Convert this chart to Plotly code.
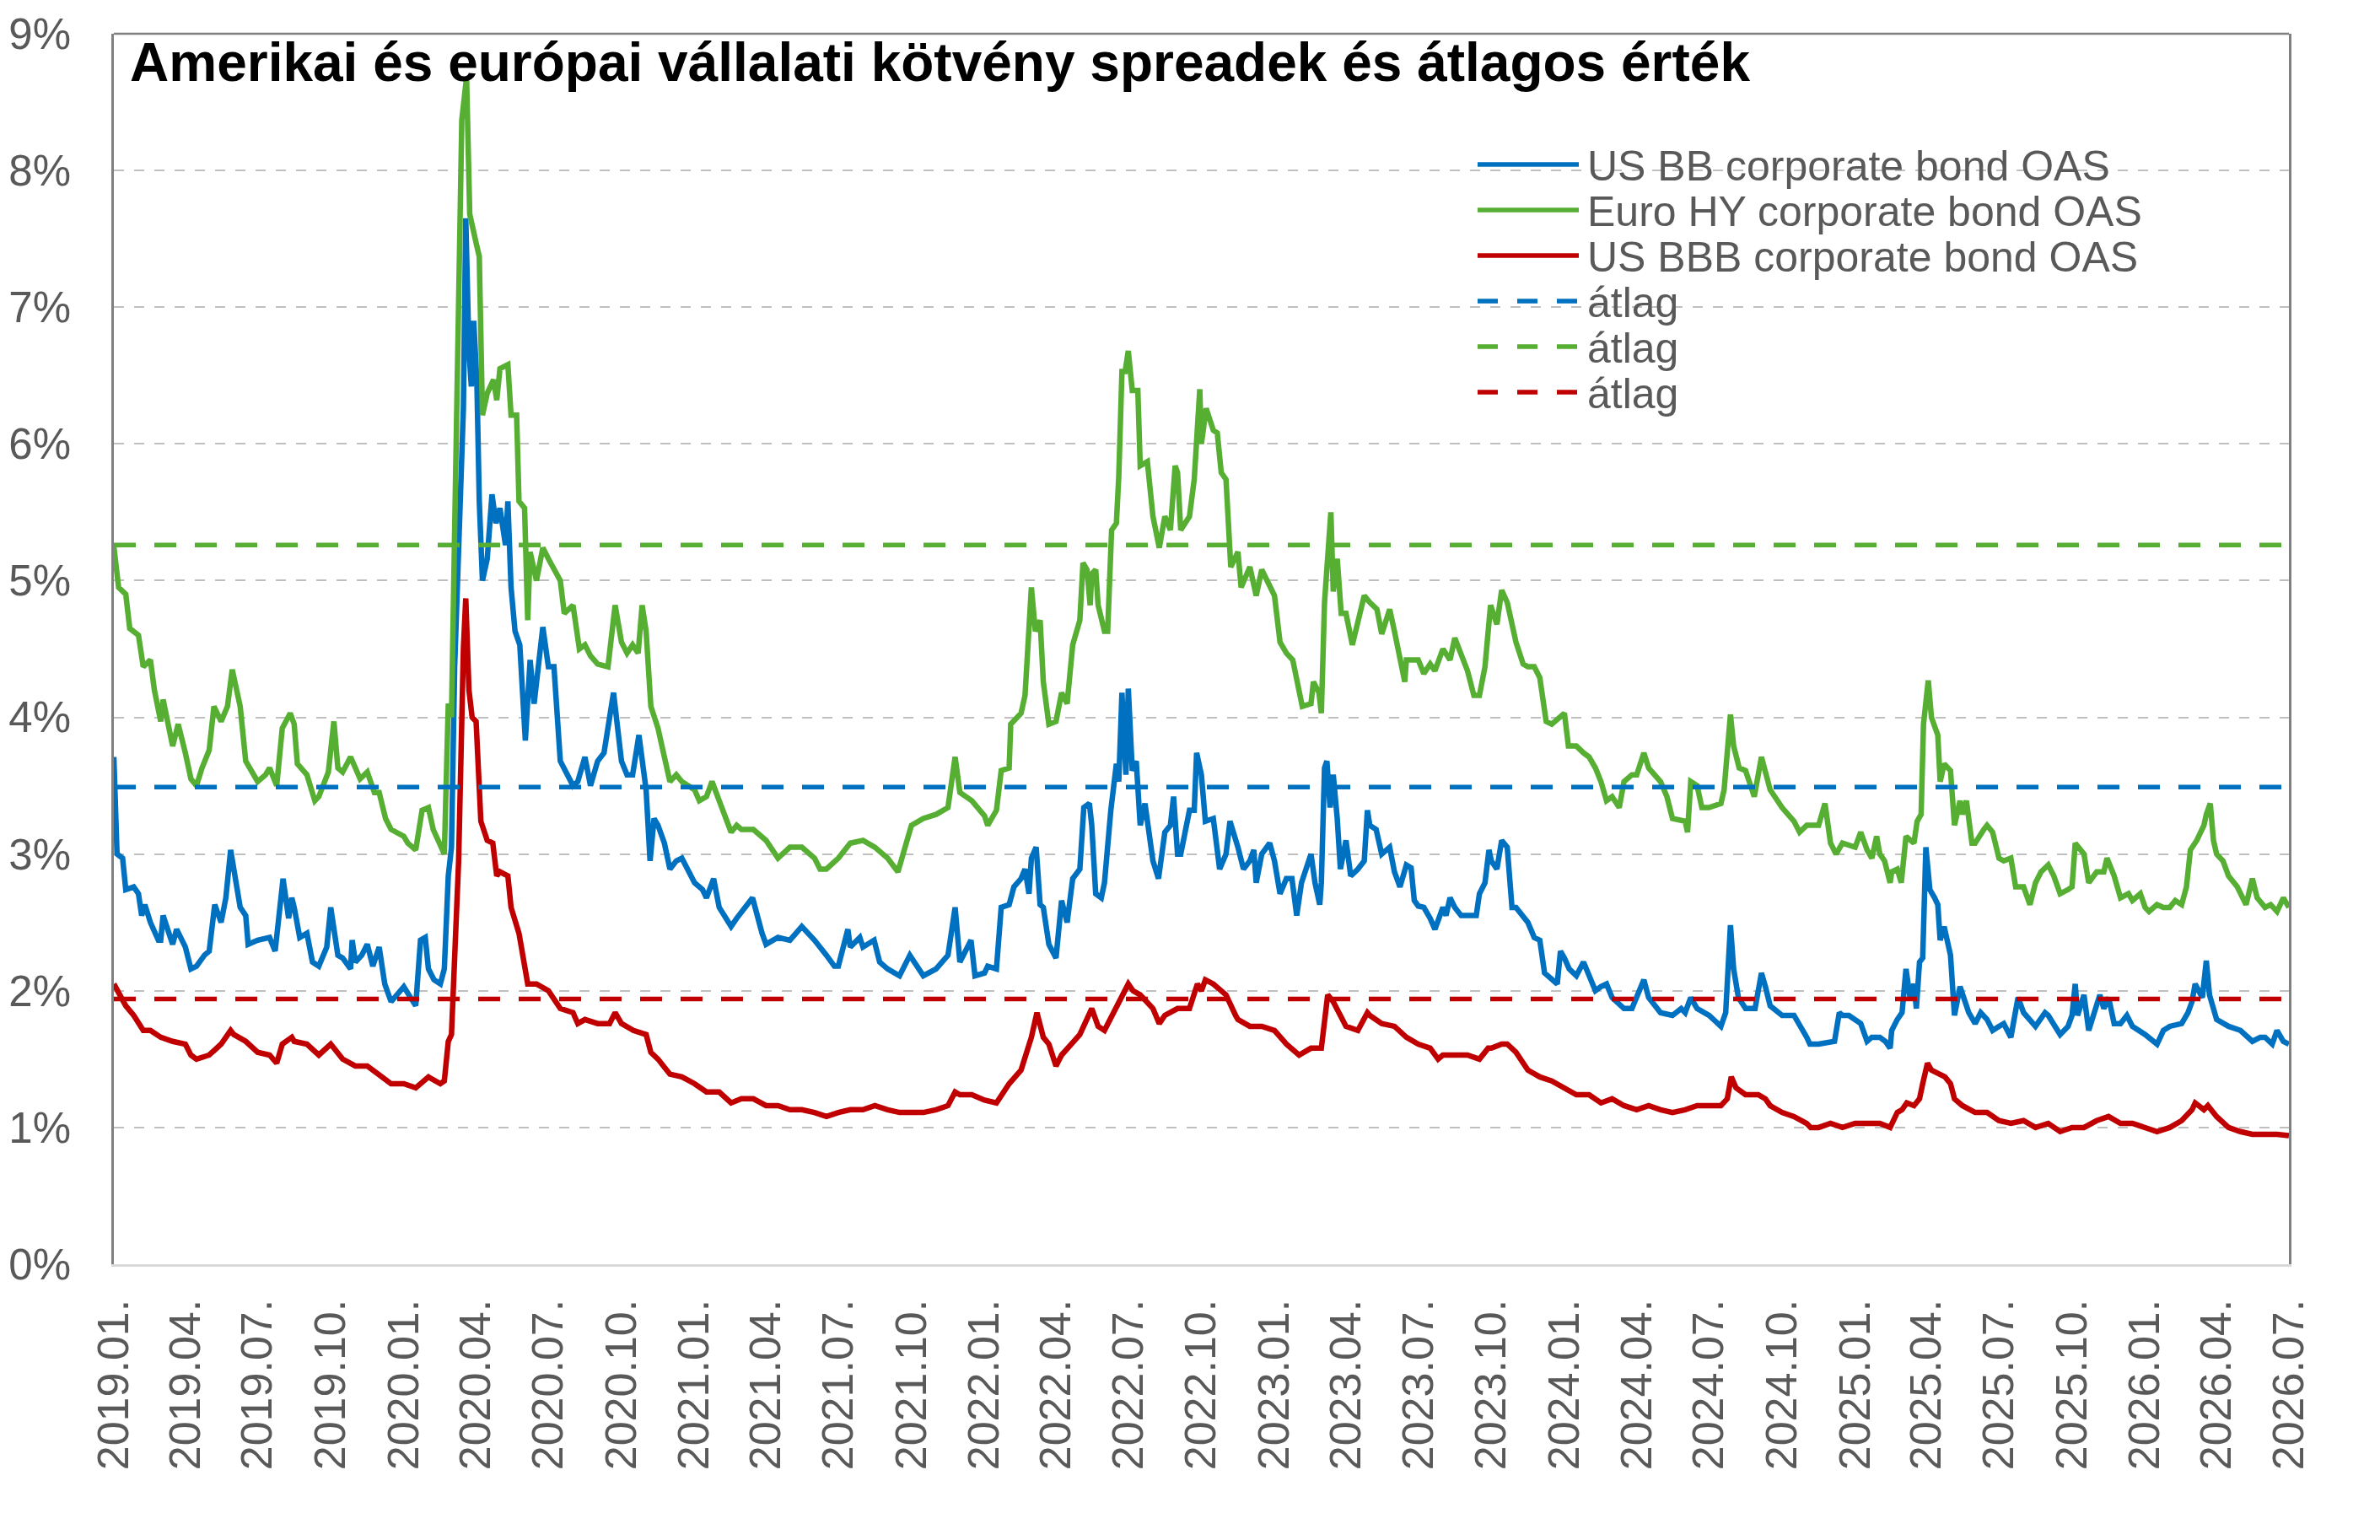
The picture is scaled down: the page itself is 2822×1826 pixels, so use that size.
import plotly.graph_objects as go

# ---------------- data (values in %) ----------------
us_bb = [
    ("2019-01-01", 3.71), ("2019-01-05", 3.00), ("2019-01-12", 2.97), ("2019-01-16", 2.74), ("2019-01-26", 2.76),
    ("2019-02-01", 2.71), ("2019-02-05", 2.55), ("2019-02-09", 2.63), ("2019-02-16", 2.50), ("2019-02-26", 2.37),
    ("2019-03-01", 2.37), ("2019-03-04", 2.55), ("2019-03-16", 2.34), ("2019-03-21", 2.45), ("2019-04-01", 2.32),
    ("2019-04-08", 2.16), ("2019-04-15", 2.18), ("2019-04-25", 2.26), ("2019-05-01", 2.29), ("2019-05-08", 2.63),
    ("2019-05-16", 2.50), ("2019-05-22", 2.68), ("2019-05-28", 3.03), ("2019-06-01", 2.89), ("2019-06-09", 2.61),
    ("2019-06-16", 2.55), ("2019-06-19", 2.34), ("2019-07-01", 2.37), ("2019-07-16", 2.39), ("2019-07-23", 2.29),
    ("2019-08-02", 2.82), ("2019-08-09", 2.53), ("2019-08-13", 2.68), ("2019-08-16", 2.61), ("2019-08-23", 2.39),
    ("2019-09-01", 2.42), ("2019-09-08", 2.21), ("2019-09-16", 2.18), ("2019-09-26", 2.32), ("2019-10-01", 2.61),
    ("2019-10-10", 2.26), ("2019-10-16", 2.24), ("2019-10-26", 2.16), ("2019-10-28", 2.37), ("2019-11-01", 2.21),
    ("2019-11-09", 2.26), ("2019-11-16", 2.34), ("2019-11-23", 2.18), ("2019-12-01", 2.32), ("2019-12-08", 2.05),
    ("2019-12-16", 1.92), ("2020-01-01", 2.03), ("2020-01-10", 1.95), ("2020-01-16", 1.89), ("2020-01-22", 2.37),
    ("2020-01-28", 2.39), ("2020-02-01", 2.16), ("2020-02-08", 2.08), ("2020-02-16", 2.05), ("2020-02-21", 2.16),
    ("2020-02-26", 2.84), ("2020-03-01", 3.05), ("2020-03-05", 4.37), ("2020-03-10", 5.32), ("2020-03-16", 6.26),
    ("2020-03-19", 7.65), ("2020-03-23", 6.68), ("2020-03-26", 6.42), ("2020-03-29", 6.90), ("2020-04-02", 6.45),
    ("2020-04-05", 5.58), ("2020-04-09", 5.00), ("2020-04-15", 5.16), ("2020-04-21", 5.63), ("2020-04-26", 5.42),
    ("2020-05-01", 5.53), ("2020-05-08", 5.26), ("2020-05-11", 5.58), ("2020-05-15", 4.95), ("2020-05-20", 4.63),
    ("2020-05-26", 4.53), ("2020-06-02", 3.83), ("2020-06-08", 4.42), ("2020-06-13", 4.10), ("2020-06-18", 4.37),
    ("2020-06-24", 4.66), ("2020-07-01", 4.37), ("2020-07-08", 4.37), ("2020-07-16", 3.68), ("2020-07-21", 3.63),
    ("2020-08-01", 3.50), ("2020-08-07", 3.53), ("2020-08-16", 3.71), ("2020-08-23", 3.50), ("2020-09-01", 3.68),
    ("2020-09-09", 3.74), ("2020-09-21", 4.18), ("2020-10-01", 3.68), ("2020-10-08", 3.58), ("2020-10-15", 3.58),
    ("2020-10-23", 3.87), ("2020-11-01", 3.47), ("2020-11-06", 2.95), ("2020-11-11", 3.26), ("2020-11-16", 3.21),
    ("2020-11-24", 3.08), ("2020-12-01", 2.89), ("2020-12-09", 2.95), ("2020-12-16", 2.97), ("2021-01-01", 2.79),
    ("2021-01-11", 2.74), ("2021-01-16", 2.68), ("2021-01-25", 2.82), ("2021-02-01", 2.61), ("2021-02-16", 2.47),
    ("2021-02-23", 2.53), ("2021-03-01", 2.58), ("2021-03-15", 2.68), ("2021-03-27", 2.42), ("2021-04-01", 2.34),
    ("2021-04-16", 2.39), ("2021-05-01", 2.37), ("2021-05-16", 2.47), ("2021-06-01", 2.37), ("2021-06-16", 2.26),
    ("2021-06-26", 2.18), ("2021-07-01", 2.18), ("2021-07-13", 2.45), ("2021-07-16", 2.32), ("2021-07-28", 2.39),
    ("2021-08-01", 2.32), ("2021-08-15", 2.37), ("2021-08-22", 2.21), ("2021-09-01", 2.16), ("2021-09-16", 2.11),
    ("2021-09-29", 2.26), ("2021-10-16", 2.11), ("2021-11-01", 2.16), ("2021-11-16", 2.26), ("2021-11-25", 2.61),
    ("2021-12-01", 2.21), ("2021-12-15", 2.37), ("2021-12-20", 2.11), ("2022-01-01", 2.13), ("2022-01-05", 2.18),
    ("2022-01-16", 2.16), ("2022-01-22", 2.61), ("2022-02-01", 2.63), ("2022-02-07", 2.76), ("2022-02-16", 2.82),
    ("2022-02-21", 2.89), ("2022-02-26", 2.71), ("2022-03-01", 2.97), ("2022-03-07", 3.05), ("2022-03-12", 2.63),
    ("2022-03-16", 2.61), ("2022-03-23", 2.34), ("2022-04-01", 2.24), ("2022-04-08", 2.66), ("2022-04-15", 2.50),
    ("2022-04-22", 2.82), ("2022-05-01", 2.89), ("2022-05-06", 3.34), ("2022-05-13", 3.37), ("2022-05-16", 3.21),
    ("2022-05-21", 2.71), ("2022-05-28", 2.68), ("2022-06-01", 2.79), ("2022-06-09", 3.32), ("2022-06-16", 3.66),
    ("2022-06-19", 3.53), ("2022-06-23", 4.18), ("2022-06-28", 3.58), ("2022-07-01", 4.21), ("2022-07-06", 3.61),
    ("2022-07-11", 3.68), ("2022-07-16", 3.21), ("2022-07-22", 3.37), ("2022-08-01", 2.95), ("2022-08-08", 2.82),
    ("2022-08-16", 3.16), ("2022-08-23", 3.21), ("2022-08-27", 3.42), ("2022-09-01", 3.00), ("2022-09-05", 3.00),
    ("2022-09-16", 3.32), ("2022-09-22", 3.32), ("2022-09-25", 3.74), ("2022-10-01", 3.58), ("2022-10-06", 3.24),
    ("2022-10-16", 3.26), ("2022-10-24", 2.89), ("2022-11-01", 3.00), ("2022-11-06", 3.24), ("2022-11-16", 3.05),
    ("2022-11-23", 2.89), ("2022-12-01", 2.95), ("2022-12-06", 3.03), ("2022-12-09", 2.79), ("2022-12-16", 3.00),
    ("2022-12-26", 3.08), ("2023-01-01", 2.95), ("2023-01-08", 2.71), ("2023-01-16", 2.82), ("2023-01-23", 2.82),
    ("2023-01-29", 2.55), ("2023-02-04", 2.79), ("2023-02-16", 3.00), ("2023-02-21", 2.79), ("2023-02-27", 2.63),
    ("2023-03-01", 2.79), ("2023-03-05", 3.63), ("2023-03-08", 3.68), ("2023-03-12", 3.34), ("2023-03-16", 3.58),
    ("2023-03-21", 3.26), ("2023-03-25", 2.89), ("2023-04-01", 3.10), ("2023-04-07", 2.84), ("2023-04-16", 2.89),
    ("2023-04-24", 2.95), ("2023-04-28", 3.32), ("2023-05-01", 3.21), ("2023-05-09", 3.18), ("2023-05-16", 3.00),
    ("2023-05-26", 3.05), ("2023-06-01", 2.87), ("2023-06-08", 2.76), ("2023-06-16", 2.92), ("2023-06-22", 2.90),
    ("2023-06-26", 2.66), ("2023-07-01", 2.62), ("2023-07-08", 2.61), ("2023-07-16", 2.53), ("2023-07-22", 2.45),
    ("2023-08-01", 2.61), ("2023-08-05", 2.55), ("2023-08-10", 2.68), ("2023-08-16", 2.61), ("2023-08-24", 2.55),
    ("2023-09-01", 2.55), ("2023-09-12", 2.55), ("2023-09-16", 2.71), ("2023-09-23", 2.79), ("2023-09-28", 3.03),
    ("2023-10-01", 2.95), ("2023-10-08", 2.89), ("2023-10-14", 3.10), ("2023-10-21", 3.05), ("2023-10-27", 2.61),
    ("2023-11-01", 2.61), ("2023-11-10", 2.55), ("2023-11-16", 2.50), ("2023-11-24", 2.39), ("2023-12-01", 2.37),
    ("2023-12-07", 2.13), ("2023-12-16", 2.08), ("2023-12-23", 2.05), ("2023-12-27", 2.29), ("2024-01-01", 2.24),
    ("2024-01-07", 2.16), ("2024-01-16", 2.11), ("2024-01-25", 2.21), ("2024-02-01", 2.11), ("2024-02-09", 2.00),
    ("2024-02-16", 2.03), ("2024-02-23", 2.05), ("2024-03-01", 1.95), ("2024-03-16", 1.87), ("2024-03-26", 1.87),
    ("2024-04-01", 1.95), ("2024-04-10", 2.08), ("2024-04-16", 1.95), ("2024-05-01", 1.84), ("2024-05-16", 1.82),
    ("2024-05-27", 1.87), ("2024-06-01", 1.84), ("2024-06-08", 1.95), ("2024-06-16", 1.87), ("2024-07-01", 1.82),
    ("2024-07-16", 1.74), ("2024-07-22", 1.84), ("2024-07-28", 2.48), ("2024-08-01", 2.16), ("2024-08-07", 1.95),
    ("2024-08-16", 1.87), ("2024-08-28", 1.87), ("2024-09-05", 2.13), ("2024-09-10", 2.03), ("2024-09-16", 1.89),
    ("2024-10-01", 1.82), ("2024-10-16", 1.82), ("2024-11-01", 1.66), ("2024-11-05", 1.61), ("2024-11-16", 1.61),
    ("2024-12-01", 1.63), ("2024-12-06", 1.63), ("2024-12-12", 1.84), ("2024-12-16", 1.82), ("2024-12-24", 1.82),
    ("2025-01-01", 1.79), ("2025-01-08", 1.76), ("2025-01-16", 1.63), ("2025-01-22", 1.66), ("2025-02-01", 1.66),
    ("2025-02-08", 1.63), ("2025-02-14", 1.58), ("2025-02-16", 1.71), ("2025-02-23", 1.79), ("2025-03-01", 1.84),
    ("2025-03-06", 2.16), ("2025-03-11", 1.95), ("2025-03-16", 2.05), ("2025-03-19", 1.87), ("2025-03-23", 2.21),
    ("2025-03-27", 2.24), ("2025-03-31", 3.05), ("2025-04-05", 2.74), ("2025-04-11", 2.68), ("2025-04-15", 2.63),
    ("2025-04-18", 2.37), ("2025-04-23", 2.47), ("2025-05-01", 2.26), ("2025-05-06", 1.82), ("2025-05-13", 2.03),
    ("2025-05-16", 1.97), ("2025-05-24", 1.84), ("2025-06-01", 1.76), ("2025-06-08", 1.84), ("2025-06-16", 1.79),
    ("2025-06-23", 1.71), ("2025-07-01", 1.74), ("2025-07-07", 1.76), ("2025-07-16", 1.66), ("2025-07-25", 1.95),
    ("2025-08-01", 1.84), ("2025-08-09", 1.79), ("2025-08-16", 1.74), ("2025-08-28", 1.84), ("2025-09-01", 1.82),
    ("2025-09-16", 1.68), ("2025-09-26", 1.74), ("2025-10-01", 1.82), ("2025-10-05", 2.05), ("2025-10-08", 1.82),
    ("2025-10-16", 1.97), ("2025-10-22", 1.71), ("2025-11-01", 1.92), ("2025-11-05", 1.97), ("2025-11-10", 1.87),
    ("2025-11-16", 1.95), ("2025-11-23", 1.76), ("2025-12-01", 1.76), ("2025-12-09", 1.82), ("2025-12-16", 1.74),
    ("2026-01-01", 1.68), ("2026-01-13", 1.63), ("2026-01-16", 1.61), ("2026-01-24", 1.71), ("2026-02-01", 1.74),
    ("2026-02-16", 1.76), ("2026-02-24", 1.84), ("2026-03-01", 1.92), ("2026-03-05", 2.05), ("2026-03-14", 1.95),
    ("2026-03-19", 2.22), ("2026-03-23", 1.97), ("2026-04-01", 1.79), ("2026-04-16", 1.74), ("2026-05-01", 1.71),
    ("2026-05-16", 1.63), ("2026-05-26", 1.66), ("2026-06-01", 1.66), ("2026-06-10", 1.61), ("2026-06-16", 1.71),
    ("2026-06-24", 1.63), ("2026-07-01", 1.61),
]

euro_hy = [
    ("2019-01-01", 5.25), ("2019-01-07", 4.95), ("2019-01-16", 4.90), ("2019-01-21", 4.65), ("2019-02-01", 4.60),
    ("2019-02-07", 4.37), ("2019-02-16", 4.42), ("2019-02-21", 4.20), ("2019-03-01", 3.97), ("2019-03-04", 4.13),
    ("2019-03-16", 3.79), ("2019-03-23", 3.95), ("2019-04-01", 3.74), ("2019-04-08", 3.55), ("2019-04-15", 3.50),
    ("2019-04-22", 3.63), ("2019-05-01", 3.76), ("2019-05-07", 4.08), ("2019-05-16", 3.97), ("2019-05-24", 4.08),
    ("2019-05-30", 4.35), ("2019-06-09", 4.08), ("2019-06-16", 3.68), ("2019-07-01", 3.53), ("2019-07-11", 3.58),
    ("2019-07-16", 3.63), ("2019-07-25", 3.50), ("2019-08-01", 3.92), ("2019-08-11", 4.03), ("2019-08-16", 3.95),
    ("2019-08-20", 3.66), ("2019-09-01", 3.58), ("2019-09-11", 3.39), ("2019-09-16", 3.42), ("2019-09-28", 3.60),
    ("2019-10-05", 3.97), ("2019-10-10", 3.63), ("2019-10-16", 3.60), ("2019-10-26", 3.71), ("2019-11-01", 3.63),
    ("2019-11-07", 3.55), ("2019-11-16", 3.60), ("2019-11-25", 3.45), ("2019-12-01", 3.45), ("2019-12-09", 3.26),
    ("2019-12-16", 3.18), ("2020-01-01", 3.13), ("2020-01-06", 3.08), ("2020-01-16", 3.03), ("2020-01-24", 3.32),
    ("2020-02-01", 3.34), ("2020-02-07", 3.18), ("2020-02-16", 3.05), ("2020-02-21", 3.00), ("2020-02-26", 4.10),
    ("2020-03-01", 4.00), ("2020-03-05", 5.37), ("2020-03-08", 6.26), ("2020-03-14", 8.37), ("2020-03-20", 8.68),
    ("2020-03-24", 7.68), ("2020-04-01", 7.47), ("2020-04-05", 7.37), ("2020-04-09", 6.21), ("2020-04-15", 6.37),
    ("2020-04-23", 6.47), ("2020-04-27", 6.32), ("2020-05-01", 6.55), ("2020-05-11", 6.58), ("2020-05-15", 6.21),
    ("2020-05-22", 6.21), ("2020-05-25", 5.58), ("2020-06-01", 5.53), ("2020-06-05", 4.71), ("2020-06-08", 5.21),
    ("2020-06-16", 5.00), ("2020-06-24", 5.24), ("2020-07-01", 5.16), ("2020-07-08", 5.08), ("2020-07-16", 5.00),
    ("2020-07-21", 4.76), ("2020-08-01", 4.82), ("2020-08-09", 4.50), ("2020-08-16", 4.53), ("2020-08-23", 4.45),
    ("2020-09-01", 4.39), ("2020-09-14", 4.37), ("2020-09-23", 4.82), ("2020-10-01", 4.55), ("2020-10-08", 4.47),
    ("2020-10-15", 4.53), ("2020-10-22", 4.47), ("2020-10-27", 4.82), ("2020-11-01", 4.63), ("2020-11-07", 4.08),
    ("2020-11-16", 3.92), ("2020-11-24", 3.71), ("2020-12-01", 3.53), ("2020-12-09", 3.58), ("2020-12-16", 3.53),
    ("2021-01-01", 3.47), ("2021-01-07", 3.39), ("2021-01-16", 3.42), ("2021-01-23", 3.53), ("2021-02-01", 3.39),
    ("2021-02-16", 3.16), ("2021-02-23", 3.21), ("2021-03-01", 3.18), ("2021-03-16", 3.18), ("2021-04-01", 3.10),
    ("2021-04-16", 2.97), ("2021-05-01", 3.05), ("2021-05-16", 3.05), ("2021-06-01", 2.97), ("2021-06-08", 2.89),
    ("2021-06-16", 2.89), ("2021-07-01", 2.97), ("2021-07-16", 3.08), ("2021-08-01", 3.10), ("2021-08-16", 3.05),
    ("2021-09-01", 2.97), ("2021-09-14", 2.87), ("2021-10-01", 3.21), ("2021-10-16", 3.26), ("2021-11-01", 3.29),
    ("2021-11-16", 3.34), ("2021-11-25", 3.71), ("2021-12-01", 3.45), ("2021-12-16", 3.39), ("2022-01-01", 3.28),
    ("2022-01-05", 3.21), ("2022-01-16", 3.32), ("2022-01-22", 3.61), ("2022-02-01", 3.63), ("2022-02-03", 3.95),
    ("2022-02-16", 4.03), ("2022-02-21", 4.16), ("2022-02-26", 4.58), ("2022-03-01", 4.95), ("2022-03-06", 4.63),
    ("2022-03-12", 4.71), ("2022-03-16", 4.26), ("2022-03-23", 3.95), ("2022-04-01", 3.97), ("2022-04-08", 4.18),
    ("2022-04-15", 4.10), ("2022-04-22", 4.53), ("2022-05-01", 4.71), ("2022-05-05", 5.13), ("2022-05-10", 5.08),
    ("2022-05-14", 4.82), ("2022-05-16", 5.05), ("2022-05-21", 5.08), ("2022-05-24", 4.82), ("2022-06-01", 4.63),
    ("2022-06-05", 4.63), ("2022-06-10", 5.37), ("2022-06-16", 5.42), ("2022-06-19", 5.76), ("2022-06-23", 6.53),
    ("2022-06-27", 6.53), ("2022-07-01", 6.68), ("2022-07-06", 6.39), ("2022-07-13", 6.39), ("2022-07-16", 5.84),
    ("2022-07-25", 5.87), ("2022-08-01", 5.47), ("2022-08-09", 5.24), ("2022-08-16", 5.47), ("2022-08-23", 5.37),
    ("2022-08-29", 5.84), ("2022-09-01", 5.79), ("2022-09-05", 5.37), ("2022-09-16", 5.47), ("2022-09-22", 5.74),
    ("2022-09-29", 6.40), ("2022-10-01", 6.00), ("2022-10-07", 6.26), ("2022-10-16", 6.10), ("2022-10-21", 6.08),
    ("2022-10-26", 5.79), ("2022-11-01", 5.74), ("2022-11-07", 5.10), ("2022-11-16", 5.21), ("2022-11-20", 4.95),
    ("2022-12-01", 5.10), ("2022-12-09", 4.89), ("2022-12-16", 5.08), ("2022-12-28", 4.95), ("2023-01-01", 4.89),
    ("2023-01-08", 4.55), ("2023-01-16", 4.47), ("2023-01-24", 4.42), ("2023-02-01", 4.21), ("2023-02-05", 4.08),
    ("2023-02-16", 4.10), ("2023-02-19", 4.26), ("2023-02-26", 4.18), ("2023-03-01", 4.03), ("2023-03-05", 4.84),
    ("2023-03-08", 5.10), ("2023-03-13", 5.50), ("2023-03-16", 4.92), ("2023-03-21", 5.16), ("2023-03-26", 4.76),
    ("2023-04-01", 4.76), ("2023-04-09", 4.53), ("2023-04-15", 4.68), ("2023-04-24", 4.89), ("2023-05-01", 4.84),
    ("2023-05-10", 4.79), ("2023-05-16", 4.61), ("2023-05-26", 4.79), ("2023-06-01", 4.63), ("2023-06-07", 4.45),
    ("2023-06-14", 4.26), ("2023-06-16", 4.42), ("2023-06-24", 4.42), ("2023-07-01", 4.42), ("2023-07-08", 4.32),
    ("2023-07-16", 4.39), ("2023-07-22", 4.34), ("2023-08-01", 4.50), ("2023-08-10", 4.42), ("2023-08-16", 4.58),
    ("2023-09-01", 4.34), ("2023-09-09", 4.16), ("2023-09-16", 4.16), ("2023-09-23", 4.37), ("2023-09-30", 4.82),
    ("2023-10-08", 4.68), ("2023-10-14", 4.93), ("2023-10-21", 4.84), ("2023-11-01", 4.55), ("2023-11-10", 4.39),
    ("2023-11-16", 4.37), ("2023-11-24", 4.37), ("2023-12-01", 4.29), ("2023-12-09", 3.97), ("2023-12-16", 3.95),
    ("2023-12-27", 4.00), ("2024-01-01", 4.03), ("2024-01-06", 3.79), ("2024-01-16", 3.79), ("2024-01-25", 3.74),
    ("2024-02-01", 3.71), ("2024-02-09", 3.63), ("2024-02-16", 3.53), ("2024-02-23", 3.39), ("2024-03-01", 3.42),
    ("2024-03-10", 3.34), ("2024-03-16", 3.53), ("2024-03-26", 3.58), ("2024-04-01", 3.58), ("2024-04-10", 3.74),
    ("2024-04-16", 3.63), ("2024-05-01", 3.53), ("2024-05-09", 3.42), ("2024-05-16", 3.26), ("2024-06-01", 3.24),
    ("2024-06-04", 3.16), ("2024-06-08", 3.53), ("2024-06-16", 3.50), ("2024-06-22", 3.34), ("2024-07-01", 3.34),
    ("2024-07-16", 3.37), ("2024-07-20", 3.47), ("2024-07-28", 4.02), ("2024-08-01", 3.79), ("2024-08-08", 3.63),
    ("2024-08-16", 3.61), ("2024-08-27", 3.42), ("2024-09-01", 3.58), ("2024-09-05", 3.71), ("2024-09-16", 3.47),
    ("2024-10-01", 3.34), ("2024-10-16", 3.24), ("2024-10-23", 3.16), ("2024-11-01", 3.21), ("2024-11-16", 3.21),
    ("2024-11-24", 3.37), ("2024-12-01", 3.08), ("2024-12-08", 3.00), ("2024-12-16", 3.08), ("2025-01-01", 3.05),
    ("2025-01-08", 3.16), ("2025-01-16", 3.03), ("2025-01-22", 2.97), ("2025-01-28", 3.13), ("2025-02-01", 3.00),
    ("2025-02-07", 2.95), ("2025-02-14", 2.79), ("2025-02-16", 2.87), ("2025-02-23", 2.89), ("2025-02-28", 2.79),
    ("2025-03-06", 3.13), ("2025-03-16", 3.08), ("2025-03-20", 3.24), ("2025-03-25", 3.29), ("2025-03-28", 3.95),
    ("2025-04-03", 4.27), ("2025-04-07", 4.00), ("2025-04-15", 3.87), ("2025-04-18", 3.53), ("2025-04-23", 3.66),
    ("2025-05-01", 3.61), ("2025-05-06", 3.21), ("2025-05-13", 3.39), ("2025-05-16", 3.29), ("2025-05-21", 3.39),
    ("2025-05-28", 3.08), ("2025-06-01", 3.08), ("2025-06-12", 3.18), ("2025-06-16", 3.21), ("2025-06-23", 3.16),
    ("2025-07-01", 2.97), ("2025-07-07", 2.95), ("2025-07-16", 2.97), ("2025-07-22", 2.76), ("2025-08-01", 2.76),
    ("2025-08-09", 2.63), ("2025-08-16", 2.79), ("2025-08-23", 2.87), ("2025-09-01", 2.92), ("2025-09-08", 2.84),
    ("2025-09-16", 2.71), ("2025-09-26", 2.74), ("2025-10-01", 2.76), ("2025-10-05", 3.08), ("2025-10-16", 3.00),
    ("2025-10-22", 2.79), ("2025-11-01", 2.87), ("2025-11-10", 2.87), ("2025-11-14", 2.97), ("2025-11-23", 2.84),
    ("2025-12-01", 2.68), ("2025-12-11", 2.71), ("2025-12-16", 2.66), ("2025-12-26", 2.71), ("2026-01-01", 2.61),
    ("2026-01-06", 2.58), ("2026-01-16", 2.63), ("2026-01-24", 2.61), ("2026-02-01", 2.61), ("2026-02-08", 2.66),
    ("2026-02-16", 2.63), ("2026-02-22", 2.76), ("2026-02-27", 3.03), ("2026-03-07", 3.10), ("2026-03-16", 3.21),
    ("2026-03-19", 3.29), ("2026-03-24", 3.37), ("2026-03-28", 3.10), ("2026-04-01", 3.00), ("2026-04-09", 2.95),
    ("2026-04-16", 2.84), ("2026-04-27", 2.76), ("2026-05-01", 2.71), ("2026-05-08", 2.63), ("2026-05-16", 2.82),
    ("2026-05-22", 2.68), ("2026-06-01", 2.61), ("2026-06-08", 2.63), ("2026-06-16", 2.58), ("2026-06-24", 2.68),
    ("2026-07-01", 2.61),
]

us_bbb = [
    ("2019-01-01", 2.05), ("2019-01-08", 1.97), ("2019-01-16", 1.89), ("2019-01-26", 1.82), ("2019-02-01", 1.76),
    ("2019-02-07", 1.71), ("2019-02-16", 1.71), ("2019-03-01", 1.66), ("2019-03-16", 1.63), ("2019-04-01", 1.61),
    ("2019-04-08", 1.53), ("2019-04-15", 1.50), ("2019-05-01", 1.53), ("2019-05-10", 1.58), ("2019-05-16", 1.61),
    ("2019-05-28", 1.71), ("2019-06-01", 1.68), ("2019-06-16", 1.63), ("2019-07-01", 1.55), ("2019-07-16", 1.53),
    ("2019-07-25", 1.47), ("2019-08-01", 1.61), ("2019-08-13", 1.66), ("2019-08-16", 1.63), ("2019-09-01", 1.61),
    ("2019-09-16", 1.53), ("2019-10-01", 1.61), ("2019-10-16", 1.50), ("2019-11-01", 1.45), ("2019-11-16", 1.45),
    ("2019-12-01", 1.39), ("2019-12-16", 1.32), ("2020-01-01", 1.32), ("2020-01-16", 1.29), ("2020-02-01", 1.37),
    ("2020-02-16", 1.32), ("2020-02-21", 1.34), ("2020-02-26", 1.63), ("2020-03-01", 1.68), ("2020-03-05", 2.37),
    ("2020-03-10", 2.95), ("2020-03-16", 4.50), ("2020-03-19", 4.87), ("2020-03-23", 4.20), ("2020-03-27", 4.00),
    ("2020-04-01", 3.97), ("2020-04-05", 3.47), ("2020-04-07", 3.24), ("2020-04-15", 3.10), ("2020-04-22", 3.08),
    ("2020-04-27", 2.84), ("2020-05-01", 2.87), ("2020-05-11", 2.84), ("2020-05-15", 2.61), ("2020-05-25", 2.42),
    ("2020-06-01", 2.16), ("2020-06-05", 2.05), ("2020-06-16", 2.05), ("2020-07-01", 2.00), ("2020-07-16", 1.87),
    ("2020-08-01", 1.84), ("2020-08-07", 1.76), ("2020-08-16", 1.79), ("2020-09-01", 1.76), ("2020-09-16", 1.76),
    ("2020-09-23", 1.84), ("2020-10-01", 1.76), ("2020-10-16", 1.71), ("2020-11-01", 1.68), ("2020-11-07", 1.55),
    ("2020-11-16", 1.50), ("2020-12-01", 1.39), ("2020-12-16", 1.37), ("2021-01-01", 1.32), ("2021-01-16", 1.26),
    ("2021-02-01", 1.26), ("2021-02-16", 1.18), ("2021-03-01", 1.21), ("2021-03-16", 1.21), ("2021-04-01", 1.16),
    ("2021-04-16", 1.16), ("2021-05-01", 1.13), ("2021-05-16", 1.13), ("2021-06-01", 1.11), ("2021-06-16", 1.08),
    ("2021-07-01", 1.11), ("2021-07-16", 1.13), ("2021-08-01", 1.13), ("2021-08-16", 1.16), ("2021-09-01", 1.13),
    ("2021-09-16", 1.11), ("2021-10-01", 1.11), ("2021-10-16", 1.11), ("2021-11-01", 1.13), ("2021-11-16", 1.16),
    ("2021-11-25", 1.26), ("2021-12-01", 1.24), ("2021-12-16", 1.24), ("2022-01-01", 1.20), ("2022-01-16", 1.18),
    ("2022-02-01", 1.32), ("2022-02-16", 1.42), ("2022-03-01", 1.66), ("2022-03-08", 1.84), ("2022-03-16", 1.66),
    ("2022-03-23", 1.61), ("2022-04-01", 1.45), ("2022-04-08", 1.53), ("2022-04-16", 1.58), ("2022-05-01", 1.68),
    ("2022-05-16", 1.87), ("2022-05-24", 1.74), ("2022-06-01", 1.71), ("2022-06-16", 1.89), ("2022-07-01", 2.05),
    ("2022-07-07", 2.00), ("2022-07-16", 1.97), ("2022-08-01", 1.87), ("2022-08-09", 1.76), ("2022-08-16", 1.82),
    ("2022-09-01", 1.87), ("2022-09-16", 1.87), ("2022-09-26", 2.05), ("2022-10-01", 2.00), ("2022-10-06", 2.08),
    ("2022-10-16", 2.05), ("2022-11-01", 1.97), ("2022-11-13", 1.82), ("2022-11-16", 1.79), ("2022-12-01", 1.74),
    ("2022-12-16", 1.74), ("2023-01-01", 1.71), ("2023-01-16", 1.61), ("2023-02-01", 1.53), ("2023-02-16", 1.58),
    ("2023-03-01", 1.58), ("2023-03-09", 1.97), ("2023-03-16", 1.92), ("2023-04-01", 1.74), ("2023-04-16", 1.71),
    ("2023-04-28", 1.84), ("2023-05-01", 1.82), ("2023-05-16", 1.76), ("2023-06-01", 1.74), ("2023-06-16", 1.66),
    ("2023-07-01", 1.61), ("2023-07-16", 1.58), ("2023-07-26", 1.50), ("2023-08-01", 1.53), ("2023-08-16", 1.53),
    ("2023-09-01", 1.53), ("2023-09-16", 1.50), ("2023-09-27", 1.58), ("2023-10-01", 1.58), ("2023-10-14", 1.61),
    ("2023-10-21", 1.61), ("2023-11-01", 1.55), ("2023-11-16", 1.42), ("2023-12-01", 1.37), ("2023-12-16", 1.34),
    ("2024-01-01", 1.29), ("2024-01-16", 1.24), ("2024-02-01", 1.24), ("2024-02-16", 1.18), ("2024-03-01", 1.21),
    ("2024-03-16", 1.16), ("2024-04-01", 1.13), ("2024-04-16", 1.16), ("2024-05-01", 1.13), ("2024-05-16", 1.11),
    ("2024-06-01", 1.13), ("2024-06-16", 1.16), ("2024-07-01", 1.16), ("2024-07-16", 1.16), ("2024-07-24", 1.21),
    ("2024-07-29", 1.37), ("2024-08-04", 1.29), ("2024-08-16", 1.24), ("2024-09-01", 1.24), ("2024-09-10", 1.21),
    ("2024-09-16", 1.16), ("2024-10-01", 1.11), ("2024-10-16", 1.08), ("2024-11-01", 1.03), ("2024-11-06", 1.00),
    ("2024-11-16", 1.00), ("2024-12-01", 1.03), ("2024-12-16", 1.00), ("2025-01-01", 1.03), ("2025-01-16", 1.03),
    ("2025-02-01", 1.03), ("2025-02-14", 1.00), ("2025-02-16", 1.03), ("2025-02-23", 1.11), ("2025-03-01", 1.13),
    ("2025-03-07", 1.18), ("2025-03-16", 1.16), ("2025-03-23", 1.21), ("2025-03-27", 1.32), ("2025-04-02", 1.47),
    ("2025-04-07", 1.42), ("2025-04-16", 1.39), ("2025-04-24", 1.37), ("2025-05-01", 1.32), ("2025-05-06", 1.21),
    ("2025-05-16", 1.16), ("2025-06-01", 1.11), ("2025-06-16", 1.11), ("2025-07-01", 1.05), ("2025-07-16", 1.03),
    ("2025-08-01", 1.05), ("2025-08-16", 1.00), ("2025-09-01", 1.03), ("2025-09-16", 0.97), ("2025-10-01", 1.00),
    ("2025-10-16", 1.00), ("2025-11-01", 1.05), ("2025-11-16", 1.08), ("2025-12-01", 1.03), ("2025-12-16", 1.03),
    ("2026-01-01", 1.00), ("2026-01-16", 0.97), ("2026-02-01", 1.00), ("2026-02-16", 1.05), ("2026-03-01", 1.13),
    ("2026-03-05", 1.18), ("2026-03-16", 1.13), ("2026-03-21", 1.16), ("2026-04-01", 1.08), ("2026-04-16", 1.00),
    ("2026-05-01", 0.97), ("2026-05-16", 0.95), ("2026-06-01", 0.95), ("2026-06-16", 0.95), ("2026-07-01", 0.94),
]

avg_us_bb = 3.49
avg_euro_hy = 5.26
avg_us_bbb = 1.94

series_names = ["US BB corporate bond OAS", "Euro HY corporate bond OAS", "US BBB corporate bond OAS"]
avg_names = ["átlag", "átlag", "átlag"]

x_start, x_end = "2019-01-01", "2026-07-01"

tick_vals = [
    "2019-01-01", "2019-04-01", "2019-07-01", "2019-10-01", "2020-01-01", "2020-04-01", "2020-07-01", "2020-10-01",
    "2021-01-01", "2021-04-01", "2021-07-01", "2021-10-01", "2022-01-01", "2022-04-01", "2022-07-01", "2022-10-01",
    "2023-01-01", "2023-04-01", "2023-07-01", "2023-10-01", "2024-01-01", "2024-04-01", "2024-07-01", "2024-10-01",
    "2025-01-01", "2025-04-01", "2025-07-01", "2025-10-01", "2026-01-01", "2026-04-01", "2026-07-01",
]
tick_text = [
    "2019.01.", "2019.04.", "2019.07.", "2019.10.", "2020.01.", "2020.04.", "2020.07.", "2020.10.",
    "2021.01.", "2021.04.", "2021.07.", "2021.10.", "2022.01.", "2022.04.", "2022.07.", "2022.10.",
    "2023.01.", "2023.04.", "2023.07.", "2023.10.", "2024.01.", "2024.04.", "2024.07.", "2024.10.",
    "2025.01.", "2025.04.", "2025.07.", "2025.10.", "2026.01.", "2026.04.", "2026.07.",
]
y_ticks = [0, 1, 2, 3, 4, 5, 6, 7, 8, 9]
y_text = ["0%", "1%", "2%", "3%", "4%", "5%", "6%", "7%", "8%", "9%"]

title_text = "Amerikai és európai vállalati kötvény spreadek és átlagos érték"

# ---------------- styling ----------------
W, H = 2822, 1826
ML, MR, MT, MB = 135, 108, 40, 327
PW, PH = W - ML - MR, H - MT - MB
FONT = "Liberation Sans, Arial, sans-serif"
GREY_TXT = "#595959"
BLUE, GREEN, RED = "#0070C0", "#56AF32", "#C00000"
LW_SERIES = 6.5
LW_AVG = 5.5
AVG_DASH = "26px,22px"


def px_x(X):
    return (X - ML) / PW


def px_y(Y):
    return (H - MB - Y) / PH


fig = go.Figure()

for data, name, color in [(us_bb, series_names[0], BLUE), (euro_hy, series_names[1], GREEN), (us_bbb, series_names[2], RED)]:
    fig.add_trace(go.Scatter(
        x=[d for d, _ in data], y=[v for _, v in data], mode="lines", name=name,
        line=dict(color=color, width=LW_SERIES), showlegend=False,
    ))

for avg, name, color in [(avg_us_bb, avg_names[0], BLUE), (avg_euro_hy, avg_names[1], GREEN), (avg_us_bbb, avg_names[2], RED)]:
    fig.add_trace(go.Scatter(
        x=[x_start, x_end], y=[avg, avg], mode="lines", name=name,
        line=dict(color=color, width=LW_AVG, dash=AVG_DASH), showlegend=False,
    ))

shapes = []
annotations = []

# top border of plot area
shapes.append(dict(type="line", xref="paper", yref="paper", x0=0, x1=1, y0=1, y1=1,
                   line=dict(color="#808080", width=2.5)))

# legend (drawn manually to match spacing)
legend_items = [
    (series_names[0], BLUE, "solid"),
    (series_names[1], GREEN, "solid"),
    (series_names[2], RED, "solid"),
    (avg_names[0], BLUE, "24px,23px"),
    (avg_names[1], GREEN, "24px,23px"),
    (avg_names[2], RED, "24px,23px"),
]
leg_y0, leg_dy = 195, 54
for i, (label, color, dash) in enumerate(legend_items):
    yc = leg_y0 + i * leg_dy
    shapes.append(dict(type="line", xref="paper", yref="paper",
                       x0=px_x(1752), x1=px_x(1872), y0=px_y(yc), y1=px_y(yc),
                       line=dict(color=color, width=LW_AVG, dash=dash)))
    annotations.append(dict(text=label, xref="paper", yref="paper", x=px_x(1880), y=px_y(yc + 2),
                            xanchor="left", yanchor="middle", showarrow=False,
                            font=dict(family=FONT, size=50, color=GREY_TXT)))

annotations.append(dict(text="<b>" + title_text + "</b>", xref="paper", yref="paper",
                        x=px_x(152), y=px_y(74), xanchor="left", yanchor="middle", showarrow=False,
                        font=dict(family=FONT, size=64, color="black")))

fig.update_layout(
    template="none",
    width=W, height=H,
    margin=dict(l=ML, r=MR, t=MT, b=MB, pad=0),
    paper_bgcolor="white", plot_bgcolor="white",
    showlegend=False,
    font=dict(family=FONT, color=GREY_TXT),
    shapes=shapes,
    annotations=annotations,
    xaxis=dict(
        type="date", range=[x_start, x_end], tickvals=tick_vals, ticktext=tick_text,
        tickangle=-90, tickfont=dict(family=FONT, size=52, color=GREY_TXT),
        showgrid=False, zeroline=False, showline=True, linecolor="#D9D9D9", linewidth=3,
        ticks="", ticklabelstandoff=18, automargin=False,
    ),
    yaxis=dict(
        range=[0, 9], tickvals=y_ticks, ticktext=y_text,
        tickfont=dict(family=FONT, size=51, color=GREY_TXT),
        showgrid=True, gridcolor="#BFBFBF", gridwidth=2, griddash="12px,12px",
        zeroline=False, showline=True, linecolor="#808080", linewidth=2.5, mirror=True,
        ticks="", ticklabelstandoff=38, automargin=False,
    ),
)

fig.write_html("out.html")
